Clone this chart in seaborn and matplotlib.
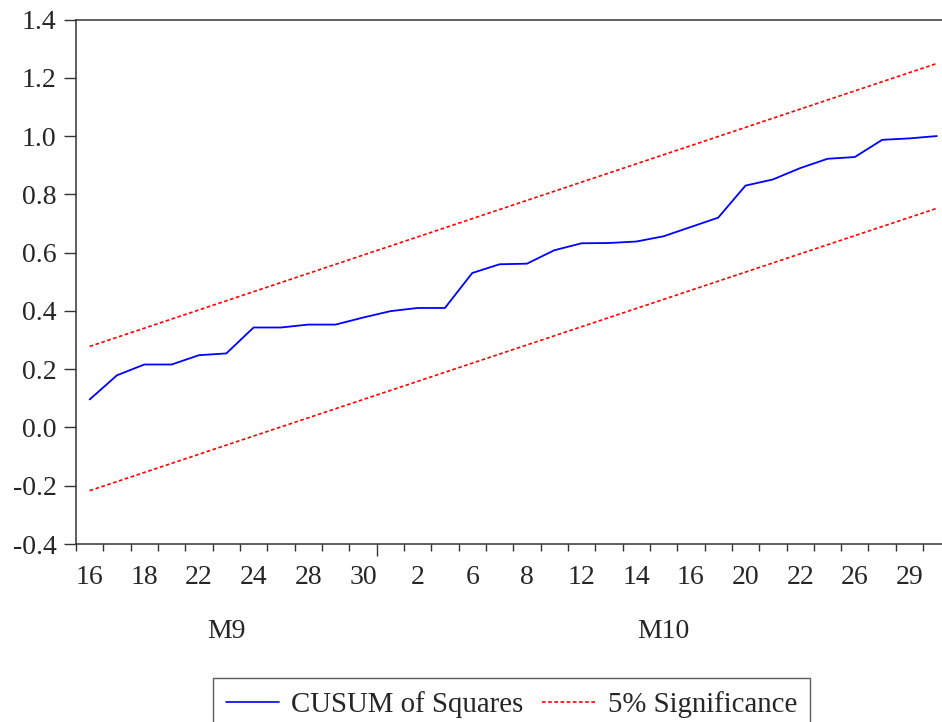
import numpy as np
import pandas as pd
import matplotlib
matplotlib.use("Agg")
import matplotlib.pyplot as plt
import seaborn as sns

# ---- data ----
days = [16, 17, 18, 19, 22, 23, 24, 25, 28, 29, 30,
        1, 2, 3, 6, 7, 8, 9, 12, 13, 14, 15, 16, 17, 20, 21, 22, 23, 26, 28, 29, 30]
months = ["M9"] * 11 + ["M10"] * 21
cusum_sq = [0.096, 0.179, 0.216, 0.216, 0.248, 0.254, 0.343, 0.343, 0.353, 0.353, 0.377,
            0.399, 0.410, 0.410, 0.530, 0.560, 0.562, 0.608, 0.632, 0.633, 0.638, 0.656,
            0.688, 0.720, 0.830, 0.851, 0.890, 0.922, 0.928, 0.987, 0.992, 1.000]
bound_idx = [0, 31]
upper_bound = [0.278, 1.249]
lower_bound = [-0.217, 0.752]
y_ticks = [-0.4, -0.2, 0.0, 0.2, 0.4, 0.6, 0.8, 1.0, 1.2, 1.4]

sns.set_style("ticks")
plt.rcParams["font.family"] = ["Liberation Serif", "DejaVu Serif"]
plt.rcParams["font.size"] = 20

FS = 20

df = pd.DataFrame({"idx": np.arange(len(cusum_sq)), "val": cusum_sq})
bdf = pd.DataFrame({"idx": bound_idx, "up": upper_bound, "lo": lower_bound})

fig = plt.figure(figsize=(9.42, 7.22), dpi=100)
ax = fig.add_axes([76 / 942, (722 - 544) / 722, 1 - 76 / 942, (544 - 19.5) / 722])

sns.lineplot(data=df, x="idx", y="val", ax=ax, color="#0000ff", linewidth=1.3,
             label="CUSUM of Squares")
sns.lineplot(data=bdf, x="idx", y="up", ax=ax, color="#ff0000", linewidth=1.2,
             dashes=False, label="5% Significance")
sns.lineplot(data=bdf, x="idx", y="lo", ax=ax, color="#ff0000", linewidth=1.2)
for ln in ax.lines[1:]:
    ln.set_linestyle((0, (2.2, 1.5)))

ax.set_xlim(-0.5, 31.19)
ax.set_ylim(-0.4, 1.4)
ax.set_xlabel("")
ax.set_ylabel("")

for s in ["left", "bottom", "top"]:
    ax.spines[s].set_color("#333333")
    ax.spines[s].set_linewidth(1.1)
ax.spines["right"].set_visible(False)

ax.set_yticks(y_ticks)
ax.set_yticklabels([f"{v:.1f}" for v in y_ticks])
ax.tick_params(axis="y", length=8.6, width=1.0, pad=5.5, color="#333333", labelsize=FS)

n = len(days)
label_pos = list(range(0, n, 2))
ax.set_xticks(label_pos)
ax.set_xticklabels([str(days[i]) for i in label_pos])
ax.tick_params(axis="x", which="major", length=0, pad=15, labelsize=FS)
boundaries = [b - 0.5 for b in range(n) if not (b >= 1 and months[b] != months[b - 1])]
ax.set_xticks(boundaries, minor=True)
ax.tick_params(axis="x", which="minor", length=5, width=1.0, color="#333333")

# month boundary tick and month labels
month_names = ["M9", "M10"]
month_change = [i - 0.5 for i in range(1, n) if months[i] != months[i - 1]]
sec1 = ax.secondary_xaxis("bottom")
sec1.set_xticks(month_change)
sec1.set_xticklabels([""] * len(month_change))
sec1.tick_params(length=8.6, width=1.0, color="#333333")
sec1.spines["bottom"].set_visible(False)

centers = []
for m in month_names:
    ids = [i for i, mm in enumerate(months) if mm == m]
    centers.append((ids[0] + ids[-1]) / 2)
sec2 = ax.secondary_xaxis("bottom")
sec2.set_xticks(centers)
sec2.set_xticklabels(month_names)
sec2.tick_params(length=0, pad=54, labelsize=FS)
sec2.spines["bottom"].set_visible(False)

handles, labels = ax.get_legend_handles_labels()
ax.get_legend().remove()
leg = fig.legend(handles, labels, loc="upper left",
                 bbox_to_anchor=(212.7 / 942, 1 - 678.3 / 722),
                 ncol=2, frameon=True, fancybox=False, edgecolor="#333333",
                 fontsize=20.8, handlelength=1.85, handletextpad=0.42,
                 columnspacing=0.65, borderpad=0.45, borderaxespad=0)
leg.get_frame().set_linewidth(1.0)
for h in leg.get_lines():
    h.set_linewidth(1.2)
leg.get_lines()[1].set_linestyle((0, (2.2, 1.5)))

fig.savefig("out.png", dpi=100)
